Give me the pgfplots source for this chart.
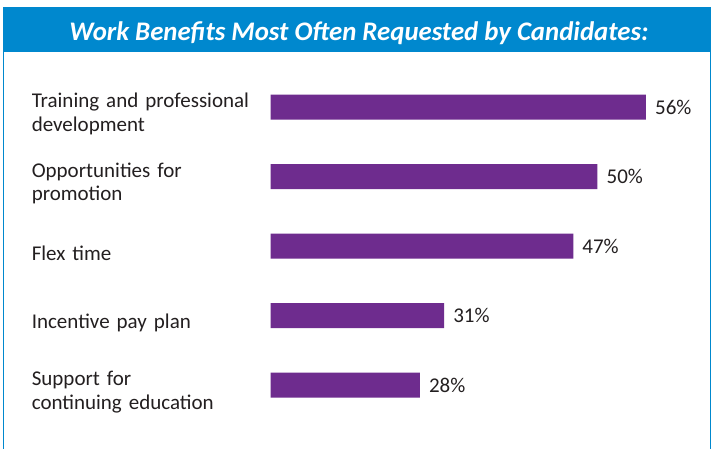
\documentclass[border=0pt]{standalone}
\usepackage{fontspec}
\setmainfont{Carlito}
\usepackage{pgfplots}
\pgfplotsset{compat=1.18}
\definecolor{hdrblue}{HTML}{0088CE}
\definecolor{barpurple}{HTML}{6E2C8E}
\definecolor{txt}{HTML}{231F20}
\begin{document}
\begin{tikzpicture}[x=1pt,y=1pt]
\useasboundingbox (0,0) rectangle (714,448);
\begin{scope}
\clip (0,0) rectangle (714,448);
\fill[white] (0,0) rectangle (714,448);
\draw[hdrblue, line width=1.5pt] (3.5,-10) rectangle (710.5,440);
\fill[hdrblue] (3.5,396) rectangle (710.5,440);
\end{scope}
\node[text=white, font=\fontsize{26.8}{30}\selectfont\bfseries\itshape] at (359,415) {Work Benefits Most Often Requested by Candidates:};
\begin{axis}[
  at={(270.5pt,28.25pt)}, anchor=south west,
  scale only axis, width=429.5pt, height=347.5pt,
  xmin=9.5, xmax=62.7, ymin=-0.5, ymax=4.5,
  xbar, bar width=25pt,
  axis line style={draw=none}, major tick length=0pt,
  xtick=\empty, ytick={0,1,2,3,4},
  /pgf/number format/assume math mode=true,
  yticklabels={{Support for\\continuing education},{Incentive pay plan},{Flex time},{Opportunities for\\promotion},{Training and professional\\development}},
  yticklabel style={anchor=east, text width=238.5pt, align=left, inner sep=0pt, yshift=-7pt, font=\fontsize{21}{23.5}\selectfont, text=txt},
  nodes near coords={\pgfmathprintnumber{\pgfplotspointmeta}\%},
  nodes near coords style={anchor=west, xshift=9pt, inner sep=0pt, font=\fontsize{21}{24}\selectfont, text=txt},
]
\addplot[fill=barpurple, draw=none] coordinates {(28,0) (31,1) (47,2) (50,3) (56,4)};
\end{axis}
\end{tikzpicture}
\end{document}
